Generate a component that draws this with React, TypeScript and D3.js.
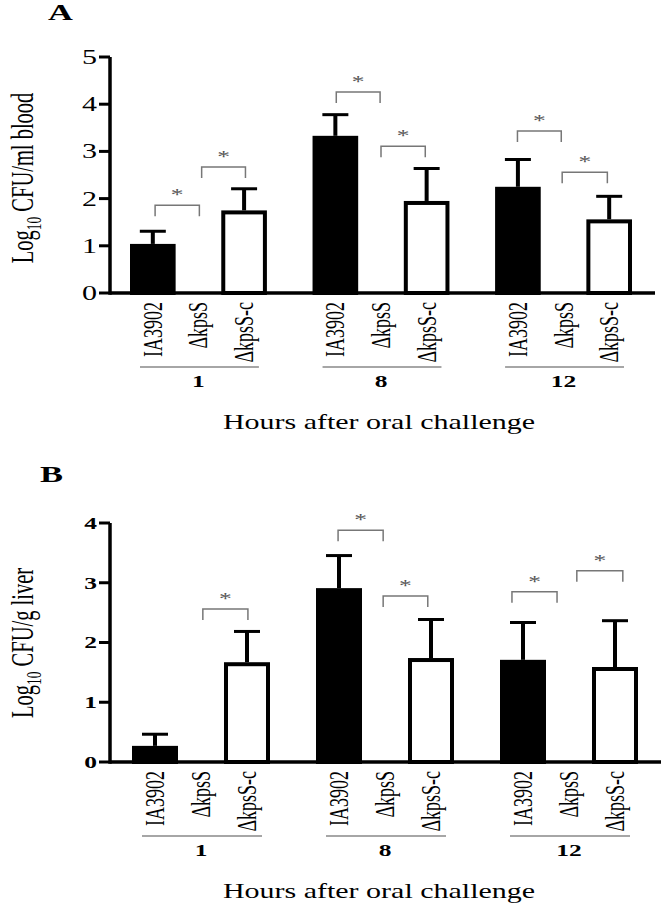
import React from "react";
import * as d3 from "d3";

// ---------- data ----------
const groups = ["1", "8", "12"];
const strains = ["IA3902", "ΔkpsS", "ΔkpsS-c"];
const strainFill = ["#000", "#fff", "#fff"];

// Panel A: Log10 CFU/ml blood
const bloodIA3902 = [1.04, 3.33, 2.25];
const bloodIA3902Err = [0.3, 0.48, 0.61];
const bloodKpsS = [0, 0, 0];
const bloodKpsSErr = [0, 0, 0];
const bloodKpsSc = [1.75, 1.95, 1.56];
const bloodKpsScErr = [0.49, 0.72, 0.52];
const bloodTicks = [0, 1, 2, 3, 4, 5];

// Panel B: Log10 CFU/g liver
const liverIA3902 = [0.27, 2.91, 1.71];
const liverIA3902Err = [0.22, 0.57, 0.65];
const liverKpsS = [0, 0, 0];
const liverKpsSErr = [0, 0, 0];
const liverKpsSc = [1.67, 1.74, 1.59];
const liverKpsScErr = [0.54, 0.67, 0.8];
const liverTicks = [0, 1, 2, 3, 4];

// significance brackets: from/to in bar-slot units, level in data units
const bloodBrackets = [
  { from: 0.05, to: 1.02, level: 1.86 },
  { from: 1.07, to: 2.03, level: 2.67 },
  { from: 4.02, to: 4.98, level: 4.26 },
  { from: 5.0, to: 5.97, level: 3.11 },
  { from: 7.99, to: 8.95, level: 3.43 },
  { from: 8.97, to: 9.96, level: 2.56 },
];
const liverBrackets = [
  { from: 1.04, to: 2.02, level: 2.56 },
  { from: 3.98, to: 4.96, level: 3.88 },
  { from: 4.96, to: 5.93, level: 2.78 },
  { from: 7.76, to: 8.74, level: 2.85 },
  { from: 9.17, to: 10.17, level: 3.2 },
];

const FONT = "'Liberation Serif', 'Times New Roman', Times, serif";
const SX = 1.5; // horizontal stretch of the original figure

type PanelProps = {
  title: string;
  titleX: number;
  titleY: number;
  yLabel: string;
  yLabelY: number;
  means: number[][];
  errs: number[][];
  ticks: number[];
  tickBold: boolean;
  tickSize: number;
  brackets: { from: number; to: number; level: number }[];
  yRange: [number, number];
  yMax: number;
  slotRange: [number, number];
  axisEnd: number;
};

function Panel(p: PanelProps) {
  const y = d3.scaleLinear().domain([0, p.yMax]).range(p.yRange);
  const slot = d3.scaleLinear().domain([0, 11]).range(p.slotRange);
  const axisX = 110;
  const y0 = y(0);
  const els: React.ReactNode[] = [];

  // bars + error bars
  groups.forEach((g, gi) => {
    strains.forEach((s, si) => {
      const v = p.means[si][gi];
      const e = p.errs[si][gi];
      if (v <= 0) return;
      const idx = gi * 4 + si;
      const x0 = slot(idx);
      const x1 = slot(idx + 1);
      const cx = (x0 + x1) / 2;
      els.push(
        <rect
          key={`bar-${g}-${s}`}
          x={x0 + 2}
          y={y(v) + 2}
          width={x1 - x0 - 4}
          height={y0 - y(v) - 2}
          fill={strainFill[si]}
          stroke="#000"
          strokeWidth={4}
        />
      );
      if (e > 0) {
        els.push(
          <line key={`ev-${g}-${s}`} x1={cx} x2={cx} y1={y(v)} y2={y(v + e) + 1.5} stroke="#000" strokeWidth={4} />,
          <line key={`ec-${g}-${s}`} x1={cx - 13} x2={cx + 13} y1={y(v + e) + 1.5} y2={y(v + e) + 1.5} stroke="#000" strokeWidth={3} />
        );
      }
    });
  });

  // brackets
  p.brackets.forEach((b, i) => {
    const xa = slot(b.from + 0.5);
    const xb = slot(b.to + 0.5);
    const yt = y(b.level);
    els.push(
      <path
        key={`br-${i}`}
        d={`M${xa},${yt + 11}V${yt}H${xb}V${yt + 11}`}
        fill="none"
        stroke="#777"
        strokeWidth={1.5}
      />,
      <text
        key={`st-${i}`}
        transform={`translate(${(xa + xb) / 2},${yt - 5}) scale(${SX},1)`}
        textAnchor="middle"
        fontSize={17}
        fill="#555"
        fontFamily={FONT}
      >
        *
      </text>
    );
  });

  // axes
  els.push(
    <line key="yaxis" x1={axisX} x2={axisX} y1={y0 + 1.75} y2={y(p.yMax)} stroke="#000" strokeWidth={3.5} />,
    <line key="xaxis" x1={axisX} x2={p.axisEnd} y1={y0} y2={y0} stroke="#000" strokeWidth={3.5} />
  );
  p.ticks.forEach((t) => {
    els.push(
      <line key={`tk-${t}`} x1={axisX - 11} x2={axisX} y1={y(t)} y2={y(t)} stroke="#000" strokeWidth={3} />,
      <text
        key={`tl-${t}`}
        transform={`translate(${axisX - 13},${y(t)}) scale(${SX},1)`}
        textAnchor="end"
        dy="0.35em"
        fontSize={p.tickSize}
        fontWeight={p.tickBold ? "bold" : "normal"}
        fontFamily={FONT}
      >
        {t}
      </text>
    );
  });

  // category labels
  groups.forEach((g, gi) => {
    strains.forEach((s, si) => {
      const idx = gi * 4 + si;
      const cx = slot(idx + 0.5);
      els.push(
        <text
          key={`cl-${g}-${s}`}
          transform={`translate(${cx + 9},${y0 + 9}) scale(${SX},1) rotate(-90)`}
          textAnchor="end"
          fontSize={18}
          fontFamily={FONT}
        >
          {s}
        </text>
      );
    });
    const gl = slot(gi * 4);
    const gr = slot(gi * 4 + 3);
    els.push(
      <line key={`gl-${g}`} x1={gl + 10} x2={gr - 8} y1={y0 + 74} y2={y0 + 74} stroke="#888" strokeWidth={1.5} />,
      <text
        key={`gt-${g}`}
        transform={`translate(${slot(gi * 4 + 1.5)},${y0 + 94}) scale(${SX},1)`}
        textAnchor="middle"
        fontSize={17}
        fontWeight="bold"
        fontFamily={FONT}
      >
        {g}
      </text>
    );
  });

  // axis titles
  els.push(
    <text
      key="xt"
      transform={`translate(379,${y0 + 136}) scale(${SX},1)`}
      textAnchor="middle"
      fontSize={20}
      fontFamily={FONT}
    >
      Hours after oral challenge
    </text>,
    <text
      key="yt"
      transform={`translate(33,${p.yLabelY}) scale(${SX},1) rotate(-90)`}
      textAnchor="middle"
      fontSize={20.5}
      fontFamily={FONT}
    >
      Log
      <tspan fontSize={13.5} dy={5}>10</tspan>
      <tspan dy={-5}>{" " + p.yLabel}</tspan>
    </text>,
    <text
      key="title"
      transform={`translate(${p.titleX},${p.titleY}) scale(${SX},1)`}
      fontSize={23}
      fontWeight="bold"
      fontFamily={FONT}
    >
      {p.title}
    </text>
  );

  return <g>{els}</g>;
}

export default function App() {
  return (
    <svg
      width={666}
      height={903}
      viewBox="0 0 666 903"
      style={{ position: "absolute", left: 0, top: 0, background: "#fff", display: "block" }}
    >
      <rect width={666} height={903} fill="#fff" />
      <Panel
        title="A"
        titleX={48}
        titleY={20}
        yLabel="CFU/ml blood"
        yLabelY={178}
        means={[bloodIA3902, bloodKpsS, bloodKpsSc]}
        errs={[bloodIA3902Err, bloodKpsSErr, bloodKpsScErr]}
        ticks={bloodTicks}
        tickBold={false}
        tickSize={20}
        brackets={bloodBrackets}
        yRange={[293, 57]}
        yMax={5}
        slotRange={[130, 632]}
        axisEnd={655}
      />
      <Panel
        title="B"
        titleX={40}
        titleY={482}
        yLabel="CFU/g liver"
        yLabelY={643}
        means={[liverIA3902, liverKpsS, liverKpsSc]}
        errs={[liverIA3902Err, liverKpsSErr, liverKpsScErr]}
        ticks={liverTicks}
        tickBold={true}
        tickSize={17}
        brackets={liverBrackets}
        yRange={[762, 523]}
        yMax={4}
        slotRange={[132, 638]}
        axisEnd={661}
      />
    </svg>
  );
}
